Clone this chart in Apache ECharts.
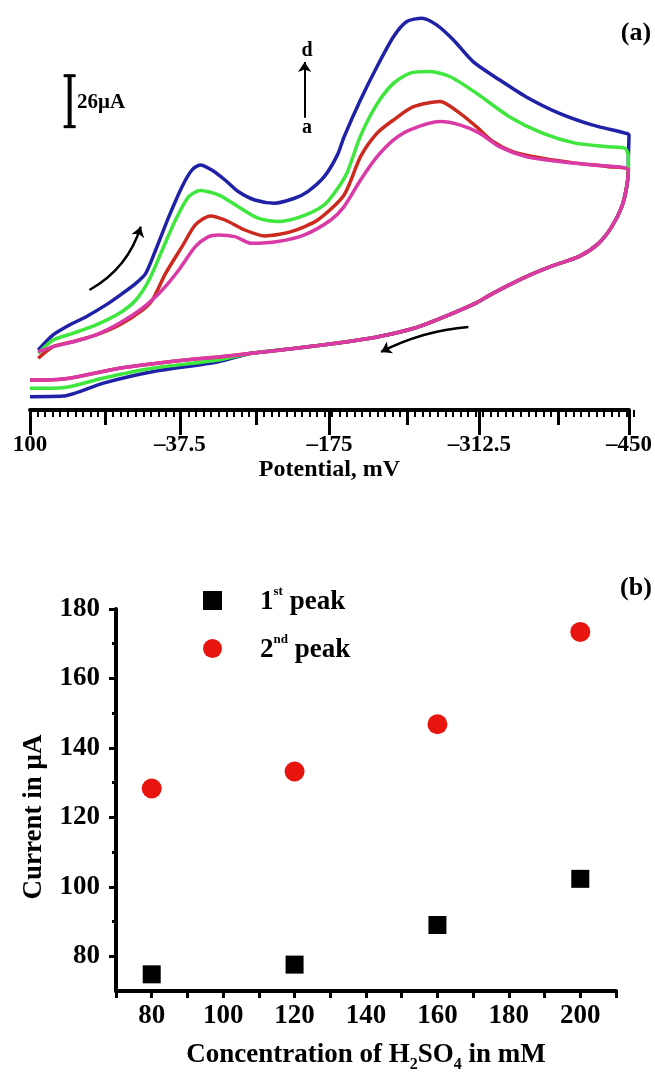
<!DOCTYPE html>
<html><head><meta charset="utf-8">
<script src="https://cdn.jsdelivr.net/npm/echarts@6/dist/echarts.min.js"></script>
<style>html,body{margin:0;padding:0;background:#fff}#c{width:655px;height:1074px}</style>
</head><body><div id="c"></div>
<script>
// ---------- Panel (a): cyclic voltammograms (potential mV, current µA) ----------
const potentialTicks = [100, -37.5, -175, -312.5, -450];
const potentialMidTicks = [31.25, -106.25, -243.75, -381.25];
const blueUpper = [[92.4,30.6],[78.8,38.3],[63.6,43.4],[48.4,47.6],[30.2,53.6],[15.0,59.5],[2.8,64.6],[-6.3,69.7],[-15.4,81.6],[-27.5,98.6],[-39.6,113.9],[-48.7,122.4],[-56.3,125.0],[-66.9,122.4],[-79.1,117.3],[-91.2,111.4],[-106.4,107.1],[-124.6,105.5],[-142.9,108.0],[-155.0,111.4],[-170.2,119.0],[-182.3,130.1],[-188.4,139.3],[-203.5,158.2],[-218.7,175.2],[-233.9,190.5],[-246.0,198.1],[-259.7,199.8],[-273.3,196.4],[-288.6,188.8],[-306.8,177.7],[-331.0,168.4],[-355.3,159.8],[-385.6,151.4],[-416.0,145.4],[-446.4,141.2],[-450.0,140.3],[-449.4,127.6]];
const greenUpper = [[92.4,28.9],[78.8,35.7],[60.6,39.1],[39.3,43.4],[18.0,49.3],[2.8,56.1],[-9.3,66.3],[-21.4,81.6],[-33.6,96.9],[-45.7,108.8],[-56.3,111.9],[-73.0,109.7],[-91.2,103.7],[-109.4,97.8],[-127.7,96.1],[-148.9,98.6],[-170.2,104.6],[-182.3,112.8],[-191.4,121.4],[-203.5,139.8],[-218.7,156.1],[-233.9,166.7],[-249.0,171.8],[-267.2,172.6],[-285.5,170.1],[-309.8,161.6],[-340.1,149.6],[-370.5,141.2],[-400.8,136.1],[-431.2,134.3],[-446.4,133.5],[-449.4,129.2]];
const redUpper = [[92.4,26.4],[78.8,32.3],[60.6,34.8],[39.3,38.3],[18.0,43.4],[-3.2,51.0],[-12.3,56.1],[-24.5,69.7],[-39.6,83.3],[-51.8,94.4],[-65.5,99.0],[-79.1,96.9],[-97.3,91.8],[-115.5,88.8],[-139.8,91.0],[-164.1,96.9],[-188.4,109.7],[-203.5,129.2],[-218.7,141.2],[-233.9,148.0],[-252.1,154.7],[-276.4,157.3],[-294.6,151.4],[-309.8,144.5],[-325.0,136.9],[-343.2,131.8],[-370.5,128.4],[-400.8,125.9],[-431.2,124.1]];
const magentaUpper = [[92.4,29.6],[78.8,32.3],[60.6,34.8],[39.3,38.3],[18.0,44.2],[-3.2,51.9],[-21.4,61.2],[-36.6,71.4],[-51.8,83.3],[-63.9,88.4],[-73.0,89.3],[-88.2,88.4],[-103.3,85.0],[-127.7,85.9],[-152.0,89.3],[-176.2,96.9],[-188.4,103.7],[-203.5,117.3],[-218.7,129.2],[-233.9,137.8],[-249.0,142.9],[-276.4,147.1],[-294.6,145.4],[-312.8,141.2],[-331.0,134.3],[-355.3,129.2],[-385.6,126.7],[-416.0,125.0]];
const reverseShared = [[-449.4,122.4],[-447.9,113.9],[-443.4,103.7],[-434.2,93.5],[-422.1,85.0],[-403.8,78.2],[-379.6,73.5],[-355.3,67.9],[-325.0,59.5],[-309.8,54.6],[-282.5,48.0],[-253.3,41.8],[-218.7,37.2],[-191.4,34.8],[-145.9,31.6],[-103.3,28.9]];
const blueTail = [[-73.0,24.6],[-12.3,19.5],[33.3,13.6],[69.7,7.1],[100,6.8]];
const greenTail = [[-73.0,25.5],[-12.3,21.3],[33.3,16.2],[63.6,11.9],[86.3,11.1],[100,11.1]];
const pinkTail = [[-73.0,27.0],[-42.7,25.5],[18.0,21.3],[63.6,16.2],[86.3,15.3],[100,15.3]];
const scaleBar = [[63.6,144.5],[63.6,170.5]];
const arrowScanUp = [[45.4,61.2],[-1.7,93.5]];
const arrowScanBack = [[-302.5,42.3],[-222.4,29.6]];
const arrowAtoD = [[-152.2,149.0],[-152.2,177.5]];

// ---------- Panel (b): peak currents ----------
const concentrations = [80, 120, 160, 200];
const firstPeak = [74.8, 77.6, 89.0, 102.3];
const secondPeak = [128.3, 133.2, 146.8, 173.4];
const concLabelTicks = [80, 100, 120, 140, 160, 180, 200];
const currentTicks = [80, 100, 120, 140, 160, 180];
const currentMinorTicks = [90, 110, 130, 150, 170];

const FONT = "'Liberation Serif','Times New Roman',serif";
const minorPotTicks = [];
for (let k = 0; k <= 80; k++) minorPotTicks.push(-450 + k * 6.875);

const fmtPot = v => v < 0 ? '\u2013' + String(-v) : String(v);
const gridA = {left: 30, right: 21, top: 10, height: 400};
const gridB = {left: 116, right: 39, top: 609, height: 382};

function curve(name, color, pts) {
  return {type: 'line', name, xAxisIndex: 0, yAxisIndex: 0, data: pts, showSymbol: false,
    smooth: 0.25, clip: false, lineStyle: {color, width: 3.5}, itemStyle: {color}, z: 3};
}

const chart = echarts.init(document.getElementById('c'), null, {renderer: 'canvas'});
const ticksOnly = (gi, vals, len, w) => ({gridIndex: gi, type: 'value', min: -450, max: 100, inverse: true,
  axisLine: {show: false}, axisLabel: {show: false}, splitLine: {show: false},
  axisTick: {show: true, customValues: vals, length: len, lineStyle: {color: '#000', width: w}}});

chart.setOption({
  animation: false,
  backgroundColor: '#fff',
  grid: [gridA, gridA, gridA, gridB, gridB],
  xAxis: [
    {gridIndex: 0, type: 'value', min: -450, max: 100, inverse: true,
      axisLine: {lineStyle: {color: '#000', width: 4}},
      axisTick: {customValues: potentialTicks, length: 25, lineStyle: {color: '#000', width: 3}},
      axisLabel: {customValues: potentialTicks, formatter: fmtPot, margin: 24, color: '#000',
        fontSize: 23, fontWeight: 'bold', fontFamily: FONT},
      splitLine: {show: false},
      name: 'Potential, mV', nameLocation: 'middle', nameGap: 47,
      nameTextStyle: {color: '#000', fontSize: 24, fontWeight: 'bold', fontFamily: FONT}},
    ticksOnly(1, potentialMidTicks, 15, 3),
    ticksOnly(2, minorPotTicks, 7, 2),
    {gridIndex: 3, type: 'value', min: 70, max: 210, interval: 10,
      axisLine: {lineStyle: {color: '#000', width: 4}},
      axisTick: {length: 7, lineStyle: {color: '#000', width: 3}},
      axisLabel: {customValues: concLabelTicks, margin: 12, color: '#000', fontSize: 27,
        fontWeight: 'bold', fontFamily: FONT},
      splitLine: {show: false},
      name: '{m|Concentration of H}{sub|2}{m|SO}{sub|4}{m| in mM}', nameLocation: 'middle', nameGap: 51,
      nameTextStyle: {color: '#000', fontFamily: FONT, fontWeight: 'bold', fontSize: 27,
        rich: {m: {fontSize: 27, fontWeight: 'bold', fontFamily: FONT, lineHeight: 30, verticalAlign: 'top', color: '#000'},
               sub: {fontSize: 16, fontWeight: 'bold', fontFamily: FONT, lineHeight: 16, verticalAlign: 'top', padding: [15, 0, 0, 0], color: '#000'}}}},
    {gridIndex: 4, type: 'value', min: 70, max: 210, show: false}
  ],
  yAxis: [
    {gridIndex: 0, type: 'value', min: 0, max: 204, show: false},
    {gridIndex: 1, type: 'value', min: 0, max: 204, show: false},
    {gridIndex: 2, type: 'value', min: 0, max: 204, show: false},
    {gridIndex: 3, type: 'value', min: 70, max: 180,
      axisLine: {show: true, lineStyle: {color: '#000', width: 4}},
      axisTick: {show: true, customValues: currentTicks, length: 7, lineStyle: {color: '#000', width: 3}},
      axisLabel: {customValues: currentTicks, margin: 16, color: '#000', fontSize: 27,
        fontWeight: 'bold', fontFamily: FONT},
      splitLine: {show: false},
      name: 'Current in \u03bcA', nameLocation: 'middle', nameGap: 68,
      nameTextStyle: {color: '#000', fontSize: 27, fontWeight: 'bold', fontFamily: FONT, padding: [0, 34, 0, 0]}},
    {gridIndex: 4, type: 'value', min: 70, max: 180,
      axisLine: {show: false}, axisLabel: {show: false}, splitLine: {show: false},
      axisTick: {show: true, customValues: currentMinorTicks, length: 4, lineStyle: {color: '#000', width: 3}}}
  ],
  legend: {
    data: ['1st peak', '2nd peak'], orient: 'vertical', left: 198, top: 580,
    itemWidth: 19, itemHeight: 19, itemGap: 17, selectedMode: false,
    formatter: n => n === '1st peak' ? '{n|1}{s|st}{t| peak}' : '{n|2}{s|nd}{t| peak}',
    textStyle: {color: '#000', rich: {
      n: {fontSize: 27, fontWeight: 'bold', fontFamily: FONT, lineHeight: 30, padding: [4, 0, 0, 33], color: '#000'},
      s: {fontSize: 13, fontWeight: 'bold', fontFamily: FONT, lineHeight: 14, verticalAlign: 'top', color: '#000'},
      t: {fontSize: 27, fontWeight: 'bold', fontFamily: FONT, lineHeight: 30, padding: [4, 0, 0, 0], color: '#000'}}}
  },
  graphic: [
    {type: 'text', x: 636, y: 33, style: {text: '(a)', font: 'bold 26px ' + FONT, fill: '#000', align: 'center', verticalAlign: 'middle'}},
    {type: 'text', x: 77, y: 103, style: {text: '26\u03bcA', font: 'bold 21px ' + FONT, fill: '#000', align: 'left', verticalAlign: 'middle'}},
    {type: 'text', x: 307, y: 51, style: {text: 'd', font: 'bold 20px ' + FONT, fill: '#000', align: 'center', verticalAlign: 'middle'}},
    {type: 'text', x: 307, y: 128, style: {text: 'a', font: 'bold 20px ' + FONT, fill: '#000', align: 'center', verticalAlign: 'middle'}},
    {type: 'text', x: 636, y: 588, style: {text: '(b)', font: 'bold 26px ' + FONT, fill: '#000', align: 'center', verticalAlign: 'middle'}}
  ],
  series: [
    curve('d', '#1f22a6', blueUpper.concat(reverseShared, blueTail)),
    curve('c', '#3ee63e', greenUpper.concat(reverseShared, greenTail)),
    curve('b', '#cc2a1e', redUpper.concat(reverseShared, pinkTail)),
    curve('a', '#d93aa6', magentaUpper.concat(reverseShared, pinkTail)),
    {type: 'line', name: 'scale', xAxisIndex: 0, yAxisIndex: 0, data: scaleBar, showSymbol: true,
      symbol: 'rect', symbolSize: [12, 3], clip: false, lineStyle: {color: '#000', width: 4}, itemStyle: {color: '#000'}},
    {type: 'lines', coordinateSystem: 'cartesian2d', xAxisIndex: 0, yAxisIndex: 0,
      symbol: ['none', 'arrow'], symbolSize: 10, z: 5,
      lineStyle: {color: '#000', width: 2.5, opacity: 1},
      data: [
        {coords: arrowScanUp, lineStyle: {curveness: -0.2}},
        {coords: arrowScanBack, lineStyle: {curveness: -0.1}},
        {coords: arrowAtoD, lineStyle: {curveness: 0, width: 2}}
      ]},
    {type: 'scatter', name: '1st peak', xAxisIndex: 3, yAxisIndex: 3, symbol: 'rect', symbolSize: 18,
      itemStyle: {color: '#000', opacity: 1}, data: concentrations.map((c, i) => [c, firstPeak[i]])},
    {type: 'scatter', name: '2nd peak', xAxisIndex: 3, yAxisIndex: 3, symbol: 'circle', symbolSize: 20,
      itemStyle: {color: '#e8140e', opacity: 1}, data: concentrations.map((c, i) => [c, secondPeak[i]])}
  ]
});
</script></body></html>
